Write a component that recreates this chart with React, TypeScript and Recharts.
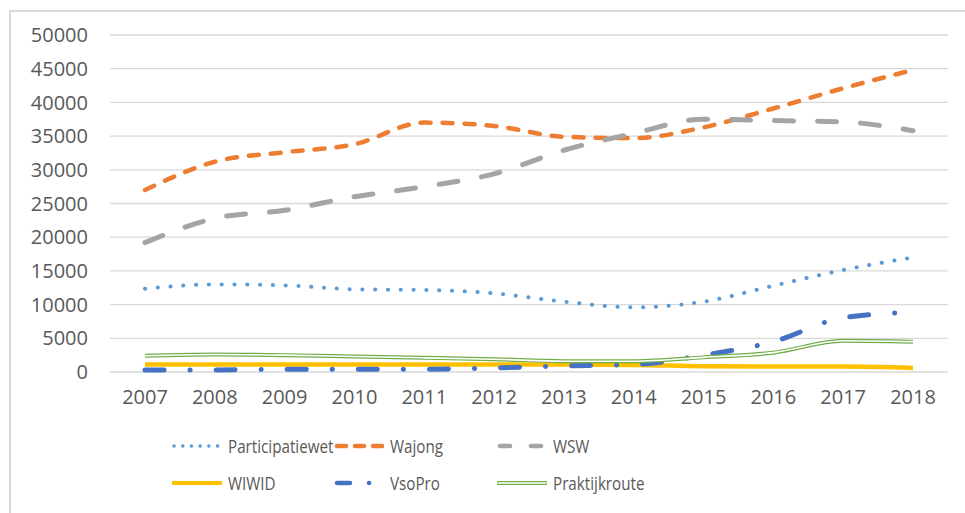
import React from 'react';
import { LineChart, Line, XAxis, YAxis, CartesianGrid } from 'recharts';

const years = ['2007', '2008', '2009', '2010', '2011', '2012', '2013', '2014', '2015', '2016', '2017', '2018'];
const participatiewet = [12350, 13000, 12850, 12270, 12170, 11670, 10430, 9600, 10430, 12800, 15130, 17000];
const wajong = [27000, 31200, 32600, 33800, 37000, 36500, 34900, 34700, 36300, 39100, 42100, 44800];
const wsw = [19200, 22800, 24000, 26000, 27500, 29400, 32900, 35400, 37500, 37300, 37100, 35800];
const wiwid = [1100, 1100, 1100, 1100, 1100, 1100, 1100, 1050, 850, 800, 800, 600];
const vsopro = [300, 300, 400, 400, 400, 600, 900, 1100, 2500, 4500, 8060, 8850];
const praktijkroute = [2400, 2600, 2500, 2300, 2100, 1900, 1600, 1600, 2170, 2870, 4640, 4500];
const yTicks = [0, 5000, 10000, 15000, 20000, 25000, 30000, 35000, 40000, 45000, 50000];

const data = years.map((y, i) => ({
  year: y,
  participatiewet: participatiewet[i],
  wajong: wajong[i],
  wsw: wsw[i],
  wiwid: wiwid[i],
  vsopro: vsopro[i],
  praktijkroute: praktijkroute[i],
}));

const FONT = '"Open Sans", sans-serif';
const TXT = '#595959';

type Swatch = { label: string; svg: React.ReactNode };

const legendItems: Swatch[] = [
  {
    label: 'Participatiewet',
    svg: <line x1={2} y1={6} x2={46} y2={6} stroke="#5B9BD5" strokeWidth={3.5} strokeLinecap="round" strokeDasharray="0.1 8.6" />,
  },
  {
    label: 'Wajong',
    svg: <line x1={3} y1={6} x2={48} y2={6} stroke="#ED7D31" strokeWidth={4.5} strokeLinecap="round" strokeDasharray="9 9" />,
  },
  {
    label: 'WSW',
    svg: <line x1={3} y1={6} x2={47} y2={6} stroke="#A5A5A5" strokeWidth={4.5} strokeLinecap="round" strokeDasharray="10 21" />,
  },
  {
    label: 'WIWID',
    svg: <line x1={1} y1={6} x2={49} y2={6} stroke="#FFC000" strokeWidth={4} strokeLinecap="round" />,
  },
  {
    label: 'VsoPro',
    svg: <line x1={3} y1={6} x2={40} y2={6} stroke="#4472C4" strokeWidth={4.5} strokeLinecap="round" strokeDasharray="13 19 0.1 40" />,
  },
  {
    label: 'Praktijkroute',
    svg: (
      <g>
        <line x1={1} y1={6} x2={49} y2={6} stroke="#70AD47" strokeWidth={4} strokeLinecap="round" />
        <line x1={1} y1={6} x2={49} y2={6} stroke="#ffffff" strokeWidth={1.6} strokeLinecap="round" />
      </g>
    ),
  },
];

const legendPos = [
  { x: 172, y: 435 },
  { x: 334, y: 435 },
  { x: 497, y: 435 },
  { x: 172, y: 472 },
  { x: 334, y: 472 },
  { x: 497, y: 472 },
];

export default function App() {
  return (
    <div style={{ position: 'absolute', left: 0, top: 0, width: 965, height: 513, overflow: 'hidden', background: '#fff' }}>
      <div style={{ position: 'absolute', left: 9, top: 10, width: 980, height: 540, borderLeft: '2px solid #D9D9D9', borderTop: '2px solid #D9D9D9' }} />
      <LineChart
        width={965}
        height={513}
        data={data}
        margin={{ top: 35, right: 17, left: 10, bottom: 111 }}
        style={{ position: 'absolute', left: 0, top: 0 }}
      >
        <CartesianGrid vertical={false} stroke="#D9D9D9" strokeWidth={1.3} />
        <XAxis
          dataKey="year"
          axisLine={false}
          tickLine={false}
          tickSize={0}
          tickMargin={18}
          height={30}
          padding={{ left: 35, right: 35 }}
          tick={{ fill: TXT, fontSize: 20, fontFamily: FONT }}
          interval={0}
        />
        <YAxis
          width={100}
          domain={[0, 50000]}
          ticks={yTicks}
          axisLine={false}
          tickLine={false}
          tickSize={0}
          tickMargin={22}
          tick={{ fill: TXT, fontSize: 20, fontFamily: FONT }}
          interval={0}
        />
        <Line type="monotone" dataKey="participatiewet" stroke="#5B9BD5" strokeWidth={4} strokeLinecap="round" strokeDasharray="0.1 12.7" dot={false} activeDot={false} isAnimationActive={false} />
        <Line type="monotone" dataKey="wajong" stroke="#ED7D31" strokeWidth={4.5} strokeLinecap="round" strokeDasharray="10 12" dot={false} activeDot={false} isAnimationActive={false} />
        <Line type="monotone" dataKey="wsw" stroke="#A5A5A5" strokeWidth={5} strokeLinecap="round" strokeDasharray="19 24" dot={false} activeDot={false} isAnimationActive={false} />
        <Line type="monotone" dataKey="wiwid" stroke="#FFC000" strokeWidth={4.5} dot={false} activeDot={false} isAnimationActive={false} />
        <Line type="monotone" dataKey="vsopro" stroke="#4472C4" strokeWidth={5} strokeLinecap="round" strokeDasharray="19 26 0.1 26" dot={false} activeDot={false} isAnimationActive={false} />
        <Line type="monotone" dataKey="praktijkroute" stroke="#70AD47" strokeWidth={4} dot={false} activeDot={false} isAnimationActive={false} />
        <Line type="monotone" dataKey={(d: any) => d.praktijkroute} name="praktijkInner" stroke="#ffffff" strokeWidth={1.6} dot={false} activeDot={false} isAnimationActive={false} />
      </LineChart>
      {legendItems.map((it, i) => (
        <div
          key={it.label}
          style={{ position: 'absolute', left: legendPos[i].x, top: legendPos[i].y, height: 22, display: 'flex', alignItems: 'center', whiteSpace: 'nowrap' }}
        >
          <svg width={50} height={12} style={{ display: 'block' }}>{it.svg}</svg>
          <span style={{ marginLeft: 6, fontFamily: FONT, fontSize: 19, color: TXT, display: 'inline-block', transform: 'scaleX(0.8)', transformOrigin: 'left center' }}>{it.label}</span>
        </div>
      ))}
    </div>
  );
}
